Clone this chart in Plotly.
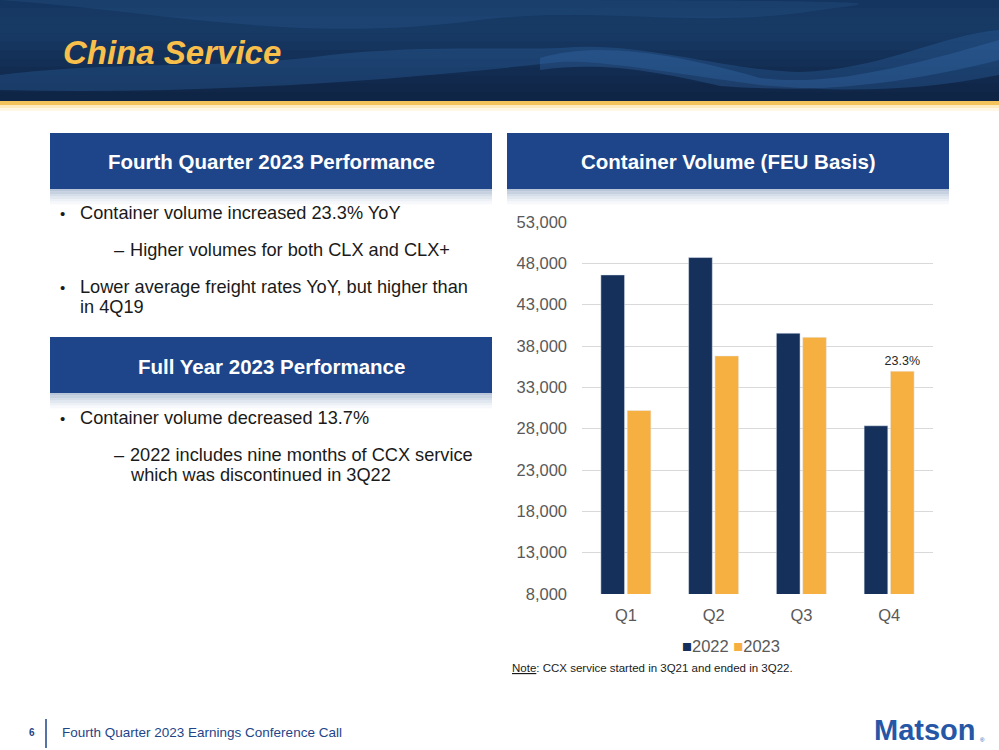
import plotly.graph_objects as go

# chart data (FEU)
quarters = ["Q1", "Q2", "Q3", "Q4"]
vol_2022 = [46600, 48700, 39550, 28350]
vol_2023 = [30200, 36800, 39050, 34950]
labels_2023 = ["", "", "", "23.3%"]
y_ticks = [8000, 13000, 18000, 23000, 28000, 33000, 38000, 43000, 48000, 53000]

W, H = 999, 750
NAVY = "#15305A"
GOLD = "#F6B042"
BOX = "#1E4589"
FONT = "Liberation Sans, Arial, sans-serif"


def px(x):
    return x / W


def py(y):
    return 1 - y / H


shapes = []
annotations = []


def rect(x0, y0, x1, y1, color, opacity=1.0):
    shapes.append(dict(type="rect", xref="paper", yref="paper",
                       x0=px(x0), x1=px(x1), y0=py(y1), y1=py(y0),
                       fillcolor=color, line=dict(width=0), opacity=opacity,
                       layer="below"))


def path(points, color, opacity):
    # points are pixel pairs, first one is the start, then cubic triples
    d = "M {},{}".format(px(points[0][0]), py(points[0][1]))
    rest = points[1:]
    for i in range(0, len(rest) - 2, 3):
        a, b, c = rest[i], rest[i + 1], rest[i + 2]
        d += " C {},{} {},{} {},{}".format(px(a[0]), py(a[1]), px(b[0]), py(b[1]), px(c[0]), py(c[1]))
    d += " Z"
    shapes.append(dict(type="path", xref="paper", yref="paper", path=d,
                       fillcolor=color, opacity=opacity, line=dict(width=0), layer="below"))


def text(x, y, s, size=18.2, color="#1a1a1a", anchor="left", bold=False, italic=False):
    if bold:
        s = "<b>" + s + "</b>"
    if italic:
        s = "<i>" + s + "</i>"
    annotations.append(dict(x=px(x), y=py(y), xref="paper", yref="paper",
                            text=s, showarrow=False, xanchor=anchor, yanchor="middle",
                            font=dict(family=FONT, size=size, color=color)))


# header band (ocean photo approximated with a gradient and a few soft waves)
header_cols = ["#14355f", "#163862", "#173a65", "#173a65", "#163862", "#15355e",
               "#143259", "#132f55", "#122c51", "#11294d", "#102749", "#0f2545"]
step = 101 / len(header_cols)
for i, c in enumerate(header_cols):
    rect(0, i * step - 0.5, W, (i + 1) * step + 0.5, c)
path([(0, 0), (150, 10), (300, 45), (480, 20), (600, 5), (700, 30), (820, 10),
      (900, 0), (950, 0), (0, 0)], "#2d5f98", 0.25)
path([(0, 75), (120, 60), (220, 70), (330, 55), (420, 45), (500, 50), (560, 48),
      (640, 40), (720, 70), (800, 72), (880, 70), (940, 35), (999, 30),
      (999, 60), (999, 70), (999, 75), (900, 95), (820, 90), (760, 85),
      (650, 70), (600, 60), (560, 62), (400, 80), (200, 95), (0, 90)], "#2f65a3", 0.35)
path([(540, 58), (600, 40), (680, 55), (760, 78), (820, 85), (880, 75), (999, 40),
      (999, 50), (999, 55), (999, 60), (880, 90), (800, 92), (720, 86),
      (650, 70), (600, 62), (540, 70)], "#3a74b5", 0.3)
rect(0, 101, W, 105, "#F3C35C")
rect(0, 105, W, 108, "#FCEBC0")
rect(0, 108, W, 111, "#FEF7E6")
text(61, 52, "China Service", size=33, color="#F8BF4A", bold=True, italic=True)


def box(x0, y0, x1, y1, title):
    rect(x0, y0, x1, y1, BOX)
    fade = ["#b9c6d9", "#c7d2e1", "#d5dde9", "#e2e8f0", "#edf1f6", "#f6f8fb"]
    for i, c in enumerate(fade):
        rect(x0, y1 + i * 2.5, x1, y1 + (i + 1) * 2.5 + 0.3, c)
    text((x0 + x1) / 2, (y0 + y1) / 2 + 1, title, size=20.5, color="white", anchor="center", bold=True)


box(50, 133, 492, 189, "Fourth Quarter 2023 Performance")
box(50, 337, 492, 393, "Full Year 2023 Performance")
box(507, 133, 949, 189, "Container Volume (FEU Basis)")

# bullet text
text(58, 213, "•", size=15)
text(78, 213, "Container volume increased 23.3% YoY")
text(112, 250, "–")
text(128, 250, "Higher volumes for both CLX and CLX+")
text(58, 287, "•", size=15)
text(78, 287, "Lower average freight rates YoY, but higher than")
text(78, 307, "in 4Q19")
text(58, 418, "•", size=15)
text(78, 418, "Container volume decreased 13.7%")
text(112, 455, "–")
text(128, 455, "2022 includes nine months of CCX service")
text(128, 475, "which was discontinued in 3Q22")

# legend drawn as text so it stays compact like the slide
text(731, 646, f"<span style='color:{NAVY}'>■</span>2022 <span style='color:{GOLD}'>■</span>2023",
     size=16.5, color="#595959", anchor="center")

# note and footer
text(510, 668, "<u>Note</u>: CCX service started in 3Q21 and ended in 3Q22.", size=11.5, color="#1a1a1a")
text(32, 732, "<b>6</b>", size=10, color="#1E4589", anchor="center")
shapes.append(dict(type="line", xref="paper", yref="paper", x0=px(46), x1=px(46),
                   y0=py(748), y1=py(719), line=dict(color="#1E4589", width=1.5)))
text(60, 732, "Fourth Quarter 2023 Earnings Conference Call", size=13.5, color="#1E4589")
text(978, 730, "Matson", size=29, color="#2557A6", anchor="right", bold=True)
text(978, 740, "®", size=6, color="#2557A6", anchor="left")

fig = go.Figure()
fig.add_trace(go.Bar(x=quarters, y=vol_2022, name="2022", marker_color=NAVY))
fig.add_trace(go.Bar(x=quarters, y=vol_2023, name="2023", marker_color=GOLD,
                     text=labels_2023, textposition="outside", cliponaxis=False,
                     constraintext="none",
                     textfont=dict(family=FONT, size=12.5, color="#262626")))

fig.update_layout(
    width=W,
    height=H,
    margin=dict(l=0, r=0, t=0, b=0, autoexpand=False),
    paper_bgcolor="white",
    plot_bgcolor="white",
    barmode="group",
    bargap=0.4,
    bargroupgap=0.1,
    showlegend=False,
    font=dict(family=FONT, size=16.5, color="#595959"),
    xaxis=dict(domain=[px(582), px(933)], showline=False, ticks="", automargin=False,
               ticklabelstandoff=9, tickfont=dict(size=16.5, color="#595959")),
    yaxis=dict(domain=[py(594), py(222)], range=[8000, 53000], tickvals=y_ticks,
               tickformat=",", showgrid=True, gridcolor="#D9D9D9", gridwidth=1,
               zeroline=False, showline=False, ticks="", ticklabelstandoff=14,
               automargin=False, tickfont=dict(size=16.5, color="#595959")),
    shapes=shapes,
    annotations=annotations,
)

# pin the figure to the top-left corner of the page (no body margin)
pin = ("document.body.style.margin='0';"
       "var d=document.getElementById('{plot_id}');"
       "d.style.position='fixed';d.style.left='0px';d.style.top='0px';")
fig.write_html("out.html", post_script=pin, config={"displayModeBar": False})
